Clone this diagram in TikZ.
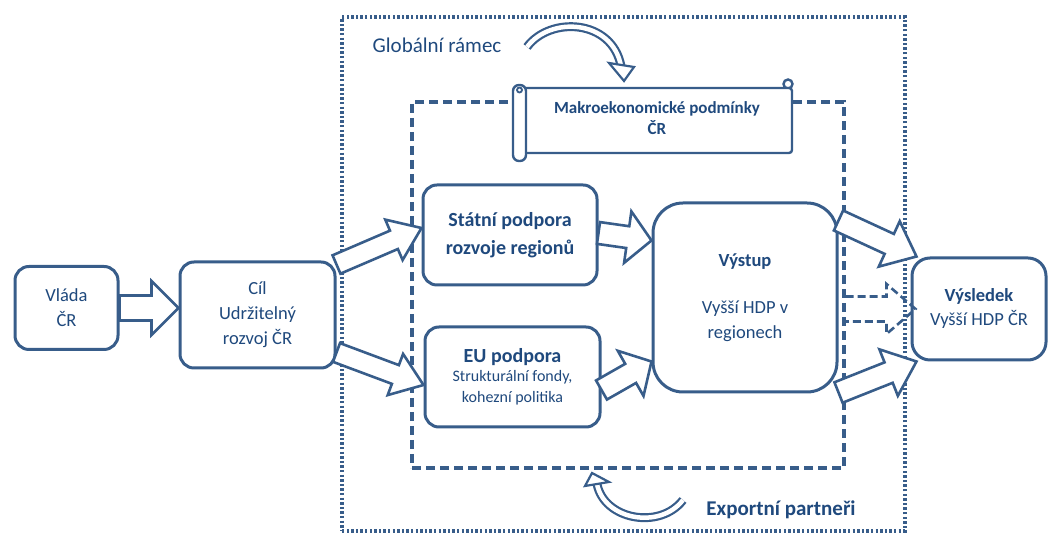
\documentclass[tikz,border=0pt]{standalone}
\usepackage{fontspec}
\setmainfont{Carlito}
\usetikzlibrary{calc}
\definecolor{frameblue}{RGB}{56,93,138}
\definecolor{textblue}{RGB}{31,73,125}

% block arrow between two points: from, to, shaft half, head half, head length
\newcommand\blockarrow[5]{%
  \path (#1); \pgfgetlastxy{\arrax}{\array}
  \path (#2); \pgfgetlastxy{\arrbx}{\arrby}
  \pgfmathsetmacro\arrang{atan2(\arrby-\array,\arrbx-\arrax)}
  \pgfmathsetmacro\arrlen{veclen(\arrbx-\arrax,\arrby-\array)}
  \begin{scope}[shift={(\arrax,\array)}, rotate=\arrang]
    \draw[blockarr] (0,-#3) -- ({\arrlen-#5},-#3) -- ({\arrlen-#5},-#4) -- (\arrlen,0)
      -- ({\arrlen-#5},#4) -- ({\arrlen-#5},#3) -- (0,#3) -- cycle;
  \end{scope}}

\begin{document}
\begin{tikzpicture}[x=1pt, y=1pt,
    box/.style = {draw=frameblue, line width=3pt, fill=white, rounded corners=14pt,
      align=center, text=textblue, inner sep=0pt},
    boxfont/.style = {font=\fontsize{18.5}{25}\selectfont},
    outerframe/.style = {draw=frameblue, line width=3.4pt, dash pattern=on 2.4pt off 2.2pt, inner sep=0pt},
    innerframe/.style = {draw=frameblue, line width=3.2pt, dash pattern=on 9pt off 5pt, inner sep=0pt},
    blockarr/.style = {draw=frameblue, line width=2.6pt, fill=white, line join=miter},
    dasharr/.style = {draw=frameblue, line width=2.6pt, dash pattern=on 8pt off 4pt},
    bendarr/.style = {draw=frameblue, line width=2.2pt, double=white, double distance=4.5pt},
    label/.style = {text=textblue, inner sep=0pt}]
  \useasboundingbox (0,0) rectangle (1048,534);

  % frames
  \node[outerframe, minimum width=563, minimum height=514] (outer) at (623.5,260) {};
  \node[innerframe, minimum width=432, minimum height=366] (inner) at (628,249) {};

  % boxes
  \node[box, boxfont, minimum width=103, minimum height=83] (vlada) at (66.5,226) {Vláda\\ČR};
  \node[box, boxfont, minimum width=155, minimum height=106] (cil) at (257.5,219) {Cíl\\Udržitelný\\rozvoj ČR};
  \node[box, minimum width=174, minimum height=100, font=\bfseries\fontsize{20}{28}\selectfont] (statni) at (510,299)
    {Státní podpora\\rozvoje regionů};
  \node[box, minimum width=175, minimum height=100, font=\fontsize{16}{21}\selectfont] (eu) at (512.5,157)
    {\bfseries\fontsize{20}{24}\selectfont EU podpora\\[-2pt]
     Strukturální fondy,\\kohezní politika};
  \node[box, boxfont, rounded corners=30pt, minimum width=184, minimum height=189] (vystup) at (745,236.5)
    {\textbf{Výstup}\\[22pt]Vyšší HDP v\\regionech};
  \node[box, boxfont, rounded corners=18pt, minimum width=134, minimum height=102] (vysledek) at (979,225)
    {\textbf{Výsledek}\\[-1pt]Vyšší HDP ČR};

  % scroll
  \draw[blockarr, line width=2.4pt] (788,450) circle (4.5);
  \draw[blockarr, line width=2.4pt, rounded corners=3pt] (520,446) rectangle (792,381);
  \draw[blockarr, line width=2.4pt] (784,446) -- (784,451);
  \draw[blockarr, line width=2.4pt, rounded corners=6pt] (513,449) rectangle (526,373);
  \draw[frameblue, line width=1.8pt] (519.5,444) circle (2.5);
  \node[label, align=center, font=\bfseries\fontsize{17}{21}\selectfont] (makro) at (657,416)
    {Makroekonomické podmínky\\ČR};

  % labels
  \node[label, font=\fontsize{21}{24}\selectfont] (global) at (437,489) {Globální rámec};
  \node[label, font=\bfseries\fontsize{21}{24}\selectfont] (export) at (781,24) {Exportní partneři};

  % bent arrows
  \coordinate (gtail) at (527,487);
  \coordinate (ghead) at (621,468);
  \draw[bendarr] (gtail) .. controls (550,518) and (612,515) .. (ghead);
  \draw[blockarr, line width=2.2pt] (609,471) -- (634,467) -- (624,453) -- cycle;
  \coordinate (ehead) at (597,50);
  \coordinate (etail) at (683,34);
  \draw[bendarr] (ehead) .. controls (604,14) and (660,4) .. (etail);
  \draw[blockarr, line width=2.2pt] (585,48) -- (609,52) -- (592,61) -- cycle;

  % block arrows
  \blockarrow{vlada.east}{cil.west |- vlada.east}{12.5}{27}{27}
  \blockarrow{[yshift=-4]cil.north east}{[yshift=7]statni.west}{10}{22}{30}
  \blockarrow{[yshift=17]cil.south east}{[yshift=-8]eu.west}{10}{22}{30}
  \blockarrow{[yshift=2]statni.east}{[yshift=57]vystup.west}{11}{26}{24}
  \blockarrow{[yshift=-13]eu.east}{[yshift=-64]vystup.west}{11}{26}{24}
  \blockarrow{[yshift=-19]vystup.north east}{[xshift=6]vysledek.north west}{11}{25}{30}
  \blockarrow{[yshift=1]vystup.south east}{[xshift=6]vysledek.south west}{11}{25}{30}

  % dashed arrow
  \coordinate (dashtail) at (inner.east |- vysledek.west);
  \draw[dasharr] ($(dashtail)+(0,12.5)$) -- ($(vysledek.west)+(-24,12.5)$) -- ($(vysledek.west)+(-24,25)$)
    -- ([xshift=5]vysledek.west) -- ($(vysledek.west)+(-24,-25)$) -- ($(vysledek.west)+(-24,-12.5)$)
    -- ($(dashtail)+(0,-12.5)$);
\end{tikzpicture}
\end{document}
